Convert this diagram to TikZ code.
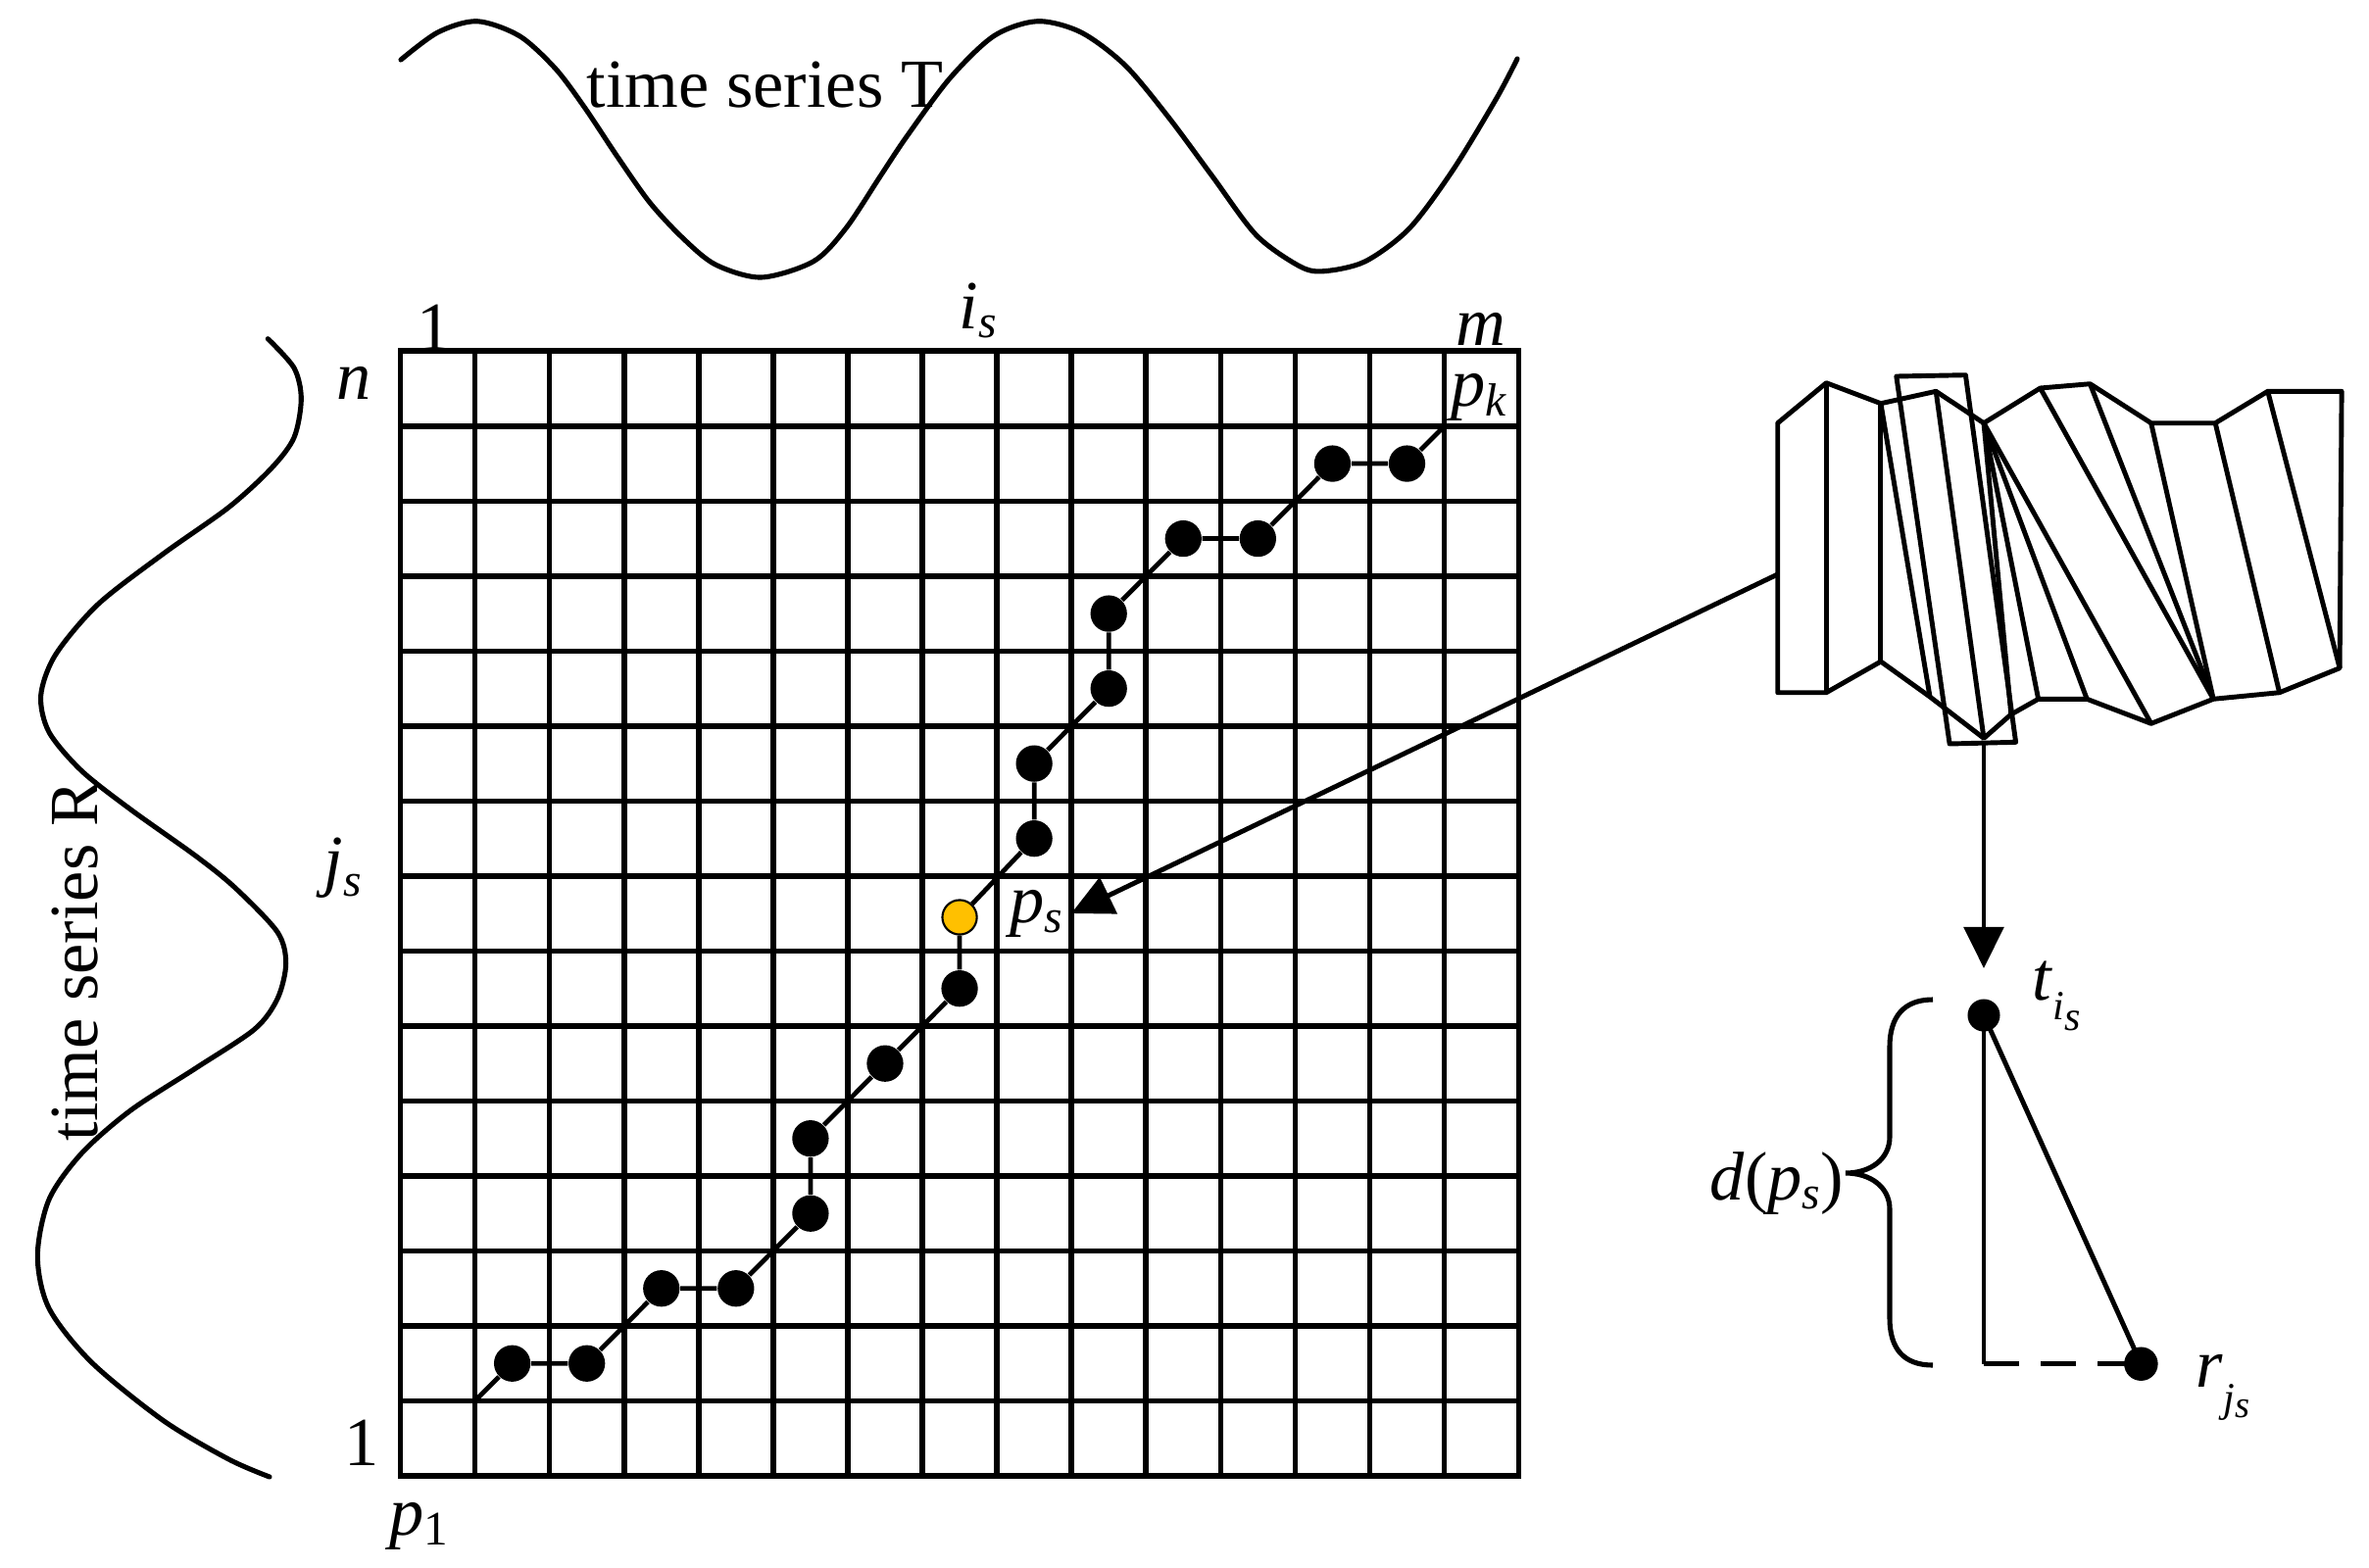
\documentclass[tikz,border=0pt]{standalone}
\usepackage{fontspec}
\setmainfont{Liberation Serif}
\usetikzlibrary{arrows.meta}
\definecolor{gold}{HTML}{FFC000}
\newcommand\lsub[2]{\textit{#1}\raisebox{-0.14em}{\fontsize{13.5}{14}\selectfont\textit{#2}}}
\begin{document}
\begin{tikzpicture}[x=0.01cm,y=-0.01cm,
  lbl/.style={inner sep=0pt, anchor=base west, font=\fontsize{20}{24}\selectfont},
  gridline/.style={line width=1.6pt, line cap=rect},
  warp/.style={line width=1.35pt},
  curve/.style={line width=1.45pt, line cap=round},
  dotb/.style={circle, fill=black, inner sep=0pt, minimum size=10.6pt},
  doto/.style={circle, fill=gold, draw=black, line width=0.6pt, inner sep=0pt, minimum size=10pt},
  fig/.style={line width=1.4pt, line join=round},
  arr/.style={line width=1.4pt, -{Triangle[length=12pt,width=11.5pt]}},
]
\useasboundingbox (0,0) rectangle (2417,1599);

% ---- time series T (top curve)
\draw[curve] plot[smooth] coordinates {(409,61) (446.7,33) (486.7,21.7) (530,36.7) (566.7,70) (596.7,110) (630,160) (663,206.7) (696.7,243) (730,270) (776.7,283) (830,266.7) (863,233) (898,180) (924.6,140) (969,80) (1014,36.7) (1058.6,21.7) (1103,33) (1148,66.7) (1192.5,120) (1237,180) (1281.8,240) (1326,271.7) (1351,276.7) (1393,266.7) (1438,233) (1482.7,173) (1527,100) (1548,60)};
\node[lbl] (tsT) at (598,109) {time series T};

% ---- time series R (left curve)
\draw[curve] plot[smooth] coordinates {(273.3,345.7) (300,375.4) (307.3,407) (300,446.5) (276.7,478) (233.3,517.7) (166.7,565) (100,616.6) (56.7,668) (41.7,709.5) (50,747) (83.3,786.6) (133.3,826) (200,873.6) (240,906) (283,951) (291.7,983) (283.3,1018.6) (260,1050) (200,1089.8) (133.3,1133) (83.3,1176.8) (50,1224) (38.3,1281.6) (50,1335) (93.3,1390) (166.7,1449.6) (233.3,1489) (275,1507)};
\node[lbl, rotate=90] (tsR) at (100,1165) {time series R};

% ---- grid and warping path
\begin{scope}[shift={(408.5,1506)}, x=0.7603cm, y=0.7647cm]
  \foreach \i in {0,...,15} {
    \draw[gridline] (\i,0) -- (\i,15);
    \draw[gridline] (0,\i) -- (15,\i);
  }
  \coordinate (pstart) at (1,1);
  \coordinate (pend) at (14,14);
  \node[dotb] (d1) at (1.5,1.5) {};
  \node[dotb] (d2) at (2.5,1.5) {};
  \node[dotb] (d3) at (3.5,2.5) {};
  \node[dotb] (d4) at (4.5,2.5) {};
  \node[dotb] (d5) at (5.5,3.5) {};
  \node[dotb] (d6) at (5.5,4.5) {};
  \node[dotb] (d7) at (6.5,5.5) {};
  \node[dotb] (d8) at (7.5,6.5) {};
  \node[doto] (ps) at (7.5,7.45) {};
  \node[dotb] (d10) at (8.5,8.5) {};
  \node[dotb] (d11) at (8.5,9.5) {};
  \node[dotb] (d12) at (9.5,10.5) {};
  \node[dotb] (d13) at (9.5,11.5) {};
  \node[dotb] (d14) at (10.5,12.5) {};
  \node[dotb] (d15) at (11.5,12.5) {};
  \node[dotb] (d16) at (12.5,13.5) {};
  \node[dotb] (d17) at (13.5,13.5) {};
  \draw[warp] (pstart) -- (d1) -- (d2) -- (d3) -- (d4) -- (d5) -- (d6) -- (d7) -- (d8) -- (ps) -- (d10) -- (d11) -- (d12) -- (d13) -- (d14) -- (d15) -- (d16) -- (d17) -- (pend);
\end{scope}

% ---- grid labels
\node[lbl] (one1) at (425,357) {1};
\node[lbl] (lis) at (978,335) {\lsub{i}{s}};
\node[lbl] (lm) at (1485,352) {\textit{m}};
\node[lbl] (lpk) at (1480,414.6) {\lsub{p}{k}};
\node[lbl] (ln) at (343,407) {\textit{n}};
\node[lbl] (ljs) at (330,901) {\textit{j}\raisebox{-0.19em}{\fontsize{13.5}{14}\selectfont\textit{s}}};
\node[lbl] (one2) at (351,1495) {1};
\node[lbl] (lp1) at (397,1566.6) {\textit{p}\raisebox{-0.14em}{\fontsize{14}{14}\selectfont 1}};
\node[lbl] (lps) at (1030,941.6) {\lsub{p}{s}};

% ---- right figure (warped series)
\coordinate (A1) at (1813.7,431.7);
\coordinate (A2) at (1863.3,390.7);
\coordinate (A3) at (1918.9,411.7);
\coordinate (A4) at (1975.2,399.3);
\coordinate (A5) at (2024,431.7);
\coordinate (A6) at (2081.6,396);
\coordinate (A7) at (2132.4,391.7);
\coordinate (A8) at (2194.7,431.7);
\coordinate (A9) at (2260.2,431.7);
\coordinate (A10) at (2313.7,399.3);
\coordinate (A11) at (2389.1,399.3);
\coordinate (B1) at (1813.7,706.7);
\coordinate (B2) at (1863.3,706.7);
\coordinate (B3) at (1918.9,675);
\coordinate (B4) at (1969,711);
\coordinate (B5) at (2024,753.3);
\coordinate (B6) at (2051.8,729);
\coordinate (B7) at (2079.6,713.3);
\coordinate (B8) at (2129.2,713.3);
\coordinate (B9) at (2194.7,738.3);
\coordinate (B10) at (2258.2,713.3);
\coordinate (B11) at (2325.6,706.7);
\coordinate (B12) at (2387.1,681.7);
\draw[fig] (A1) -- (A2) -- (A3) -- (A4) -- (A5) -- (A6) -- (A7) -- (A8) -- (A9) -- (A10) -- (A11)
  -- (B12) -- (B11) -- (B10) -- (B9) -- (B8) -- (B7) -- (B6) -- (B5) -- (B4) -- (B3) -- (B2) -- (B1) -- cycle;
\draw[fig] (A2) -- (B2);
\draw[fig] (A3) -- (B3);
\draw[fig] (A3) -- (B4);
\draw[fig] (A4) -- (B5);
\draw[fig] (A5) -- (B6);
\draw[fig] (A5) -- (B7);
\draw[fig] (A5) -- (B8);
\draw[fig] (A5) -- (B9);
\draw[fig] (A6) -- (B10);
\draw[fig] (A7) -- (B10);
\draw[fig] (A8) -- (B10);
\draw[fig] (A9) -- (B11);
\draw[fig] (A10) -- (B12);
\coordinate (R1) at (1934.8,384);
\coordinate (R2) at (2005.4,382.7);
\coordinate (R3) at (2056.6,757.3);
\coordinate (R4) at (1989.1,759);
\draw[fig] (R1) -- (R2) -- (R3) -- (R4) -- cycle;

% ---- arrow to p_s
\coordinate (astart) at (1813.7,586);
\coordinate (aend) at (1093,932);
\draw[arr] (astart) -- (aend);

% ---- distance sketch
\node[dotb, minimum size=9.4pt] (tdot) at (2024,1036) {};
\node[dotb, minimum size=9.8pt] (rdot) at (2184.4,1391.7) {};
\coordinate (vstart) at (2024,757);
\coordinate (vtip) at (2024,988);
\draw[arr] (vstart) -- (vtip);
\coordinate (corner) at (2024,1391.7);
\draw[fig] (tdot.center) -- (corner);
\draw[fig] (tdot.center) -- (rdot.center);
\draw[fig, dash pattern=on 10.2pt off 6.3pt] (corner) -- (rdot.center);
\node[lbl] (lt) at (2073,1020) {\textit{t}\raisebox{-0.29em}{\fontsize{12}{12}\selectfont\textit{i}}\raisebox{-0.45em}{\fontsize{12}{12}\selectfont\textit{s}}};
\node[lbl] (lr) at (2240,1415) {\textit{r}\raisebox{-0.36em}{\fontsize{12}{12}\selectfont\textit{j}}\raisebox{-0.45em}{\fontsize{11}{11}\selectfont\textit{s}}};

% ---- brace and d(p_s)
\coordinate (brtop) at (1972,1020);
\coordinate (brtip) at (1883,1197);
\coordinate (brbot) at (1972,1393);
\draw[line width=1.45pt] (brtop) .. controls (1942,1020) and (1928,1038) .. (1928,1068) -- (1928,1160)
  .. controls (1928,1183) and (1908,1197) .. (brtip)
  .. controls (1908,1197) and (1928,1211) .. (1928,1234) -- (1928,1345)
  .. controls (1928,1376) and (1942,1393) .. (brbot);
\node[lbl] (ld) at (1744,1224) {\textit{d}(\lsub{p}{s})};
\end{tikzpicture}
\end{document}
